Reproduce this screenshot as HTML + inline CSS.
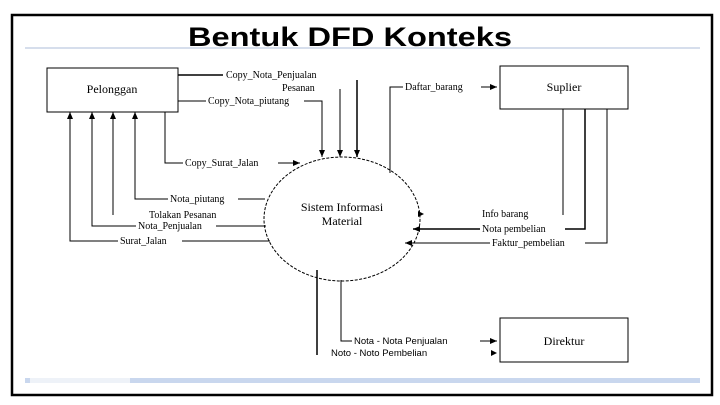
<!DOCTYPE html><html><head><style>body{margin:0;background:#fff}svg{display:block}</style></head><body>
<svg width="720" height="405" xmlns="http://www.w3.org/2000/svg" font-family="Liberation Serif, serif" font-size="10">
<defs><marker id="a" markerWidth="8" markerHeight="8" refX="7" refY="4" orient="auto" markerUnits="userSpaceOnUse"><path d="M0,1 L7,4 L0,7z" fill="#000"/></marker></defs>
<rect x="12" y="15" width="700" height="380" fill="none" stroke="#000" stroke-width="2.5"/>
<line x1="25" y1="48" x2="700" y2="48" stroke="#c8d4e6" stroke-width="1.5"/>
<rect x="25" y="378" width="675" height="5" fill="#c9d7ee"/>
<rect x="30" y="378" width="100" height="5" fill="#eef2f8"/>
<text x="188" y="46" font-family="Liberation Sans, sans-serif" font-weight="bold" font-size="27" textLength="324" lengthAdjust="spacingAndGlyphs">Bentuk DFD Konteks</text>
<g fill="none" stroke="#000">
<rect x="47" y="68" width="131" height="44"/>
<rect x="500" y="66" width="128" height="43"/>
<rect x="500" y="318" width="128" height="44"/>
<ellipse cx="342" cy="219" rx="78" ry="62" stroke-dasharray="3,1.5"/>
<polyline points="178,75 357,75 357,157" marker-end="url(#a)" stroke-width="1.5"/>
<line x1="340" y1="89" x2="340" y2="157" marker-end="url(#a)"/>
<polyline points="178,101 322,101 322,157" marker-end="url(#a)"/>
<polyline points="165,112 165,163 300,163" marker-end="url(#a)"/>
<polyline points="265,199 135,199 135,112" marker-end="url(#a)"/>
<line x1="113" y1="215" x2="113" y2="112" marker-end="url(#a)"/>
<polyline points="266,226 92,226 92,112" marker-end="url(#a)"/>
<polyline points="270,241 70,241 70,112" marker-end="url(#a)"/>
<polyline points="390,173 390,87 497,87" marker-end="url(#a)"/>
<line x1="563" y1="109" x2="563" y2="215"/>
<polyline points="585,109 585,229 413,229" marker-end="url(#a)" stroke-width="1.5"/>
<polyline points="607,109 607,243 405,243" marker-end="url(#a)"/>
<line x1="317" y1="270" x2="317" y2="355" stroke-width="1.5"/>
<polyline points="341,280 341,341 497,341" marker-end="url(#a)"/>
</g>
<path d="M418,211 L424,214 L418,217z"/>
<path d="M491,350 L497,353 L491,356z"/>
<g fill="#000">
<text x="112" y="93" text-anchor="middle" font-size="12">Pelonggan</text>
<text x="564" y="91" text-anchor="middle" font-size="12">Suplier</text>
<text x="564" y="345" text-anchor="middle" font-size="12">Direktur</text>
<text x="342" y="211" text-anchor="middle" font-size="12">Sistem Informasi</text>
<text x="342" y="225" text-anchor="middle" font-size="12">Material</text>
<rect x="223" y="70" width="140" height="10" fill="#fff"/>
<text x="226" y="78">Copy_Nota_Penjualan</text>
<text x="282" y="91">Pesanan</text>
<rect x="206" y="96" width="98" height="10" fill="#fff"/>
<text x="208" y="104">Copy_Nota_piutang</text>
<rect x="183" y="158" width="95" height="10" fill="#fff"/>
<text x="185" y="166">Copy_Surat_Jalan</text>
<rect x="168" y="194" width="70" height="10" fill="#fff"/>
<text x="170" y="202">Nota_piutang</text>
<text x="149" y="218">Tolakan Pesanan</text>
<rect x="136" y="221" width="80" height="10" fill="#fff"/>
<text x="138" y="229">Nota_Penjualan</text>
<rect x="118" y="236" width="64" height="10" fill="#fff"/>
<text x="120" y="244">Surat_Jalan</text>
<rect x="403" y="82" width="78" height="10" fill="#fff"/>
<text x="405" y="90">Daftar_barang</text>
<text x="482" y="217">Info barang</text>
<rect x="480" y="224" width="85" height="10" fill="#fff"/>
<text x="482" y="232">Nota pembelian</text>
<rect x="490" y="238" width="95" height="10" fill="#fff"/>
<text x="492" y="246">Faktur_pembelian</text>
<rect x="352" y="336" width="128" height="10" fill="#fff"/>
<text x="354" y="344" font-family="Liberation Sans, sans-serif" font-size="9.5">Nota - Nota  Penjualan</text>
<text x="331" y="356" font-family="Liberation Sans, sans-serif" font-size="9.5">Noto - Noto  Pembelian</text>
</g>
</svg></body></html>
